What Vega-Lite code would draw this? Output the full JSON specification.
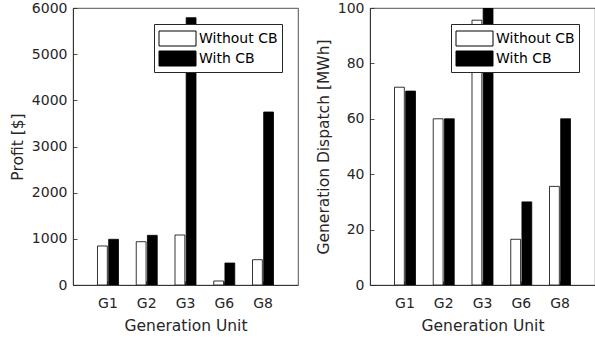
{
  "$schema": "https://vega.github.io/schema/vega-lite/v6.json",
  "padding": {"left": 9, "top": 0, "right": 0, "bottom": 0},
  "background": "white",
  "datasets": {
    "profit": [
      {"unit": "G1", "series": "Without CB", "value": 845},
      {"unit": "G1", "series": "With CB", "value": 990},
      {"unit": "G2", "series": "Without CB", "value": 938},
      {"unit": "G2", "series": "With CB", "value": 1076},
      {"unit": "G3", "series": "Without CB", "value": 1083},
      {"unit": "G3", "series": "With CB", "value": 5790},
      {"unit": "G6", "series": "Without CB", "value": 87},
      {"unit": "G6", "series": "With CB", "value": 476},
      {"unit": "G8", "series": "Without CB", "value": 548},
      {"unit": "G8", "series": "With CB", "value": 3747}
    ],
    "dispatch": [
      {"unit": "G1", "series": "Without CB", "value": 71.4},
      {"unit": "G1", "series": "With CB", "value": 70},
      {"unit": "G2", "series": "Without CB", "value": 60},
      {"unit": "G2", "series": "With CB", "value": 60},
      {"unit": "G3", "series": "Without CB", "value": 95.6},
      {"unit": "G3", "series": "With CB", "value": 100},
      {"unit": "G6", "series": "Without CB", "value": 16.5},
      {"unit": "G6", "series": "With CB", "value": 30},
      {"unit": "G8", "series": "Without CB", "value": 35.6},
      {"unit": "G8", "series": "With CB", "value": 60}
    ]
  },
  "config": {
    "font": "DejaVu Sans",
    "view": {"stroke": "#262626", "strokeWidth": 0.8},
    "axis": {
      "grid": false,
      "domainColor": "#262626",
      "domainWidth": 0.8,
      "tickColor": "#262626",
      "tickWidth": 0.8,
      "tickSize": -4,
      "labelColor": "#262626",
      "labelFontSize": 14,
      "labelFont": "DejaVu Sans",
      "titleFont": "DejaVu Sans",
      "titleFontSize": 15.5,
      "titleFontWeight": "normal",
      "titleColor": "#262626"
    },
    "legend": {
      "labelFont": "DejaVu Sans",
      "labelFontSize": 14,
      "labelColor": "black"
    }
  },
  "hconcat": [
    {
      "width": 225,
      "height": 277,
      "data": {"name": "profit"},
      "mark": {"type": "bar", "stroke": "black", "strokeWidth": 0.8, "clip": true},
      "encoding": {
        "x": {"field": "unit", "type": "nominal", "sort": null,
              "scale": {"paddingInner": 0.458, "paddingOuter": 0.632},
              "axis": {"orient": "bottom", "labelAngle": 0, "labelPadding": 15, "title": "Generation Unit", "titlePadding": 8}},
        "xOffset": {"field": "series", "type": "nominal", "sort": ["Without CB", "With CB"], "scale": {"paddingInner": 0.12}},
        "y": {"field": "value", "type": "quantitative",
              "scale": {"domain": [0, 6000], "nice": false},
              "axis": {"orient": "left", "format": "d", "values": [0, 1000, 2000, 3000, 4000, 5000, 6000], "labelPadding": 10, "title": "Profit [$]", "titlePadding": 6}},
        "color": {"field": "series", "type": "nominal",
                  "scale": {"domain": ["Without CB", "With CB"], "range": ["white", "black"]},
                  "legend": {"title": null, "orient": "top-right", "offset": 16,
                             "symbolType": "M-1.85,-0.75H1.85V0.75H-1.85Z", "symbolSize": 400,
                             "symbolOffset": 9,
                             "symbolStrokeColor": "black", "symbolStrokeWidth": 1, "symbolOpacity": 1,
                             "fillColor": "white", "strokeColor": "#262626", "padding": 4,
                             "rowPadding": 0, "labelOffset": 11}}
      }
    },
    {
      "width": 225,
      "height": 277,
      "data": {"name": "dispatch"},
      "mark": {"type": "bar", "stroke": "black", "strokeWidth": 0.8, "clip": true},
      "encoding": {
        "x": {"field": "unit", "type": "nominal", "sort": null,
              "scale": {"paddingInner": 0.458, "paddingOuter": 0.632},
              "axis": {"orient": "bottom", "labelAngle": 0, "labelPadding": 15, "title": "Generation Unit", "titlePadding": 8}},
        "xOffset": {"field": "series", "type": "nominal", "sort": ["Without CB", "With CB"], "scale": {"paddingInner": 0.12}},
        "y": {"field": "value", "type": "quantitative",
              "scale": {"domain": [0, 100], "nice": false},
              "axis": {"orient": "left", "values": [0, 20, 40, 60, 80, 100], "labelPadding": 10, "title": "Generation Dispatch [MWh]", "titlePadding": 6}},
        "color": {"field": "series", "type": "nominal",
                  "scale": {"domain": ["Without CB", "With CB"], "range": ["white", "black"]},
                  "legend": {"title": null, "orient": "top-right", "offset": 16,
                             "symbolType": "M-1.85,-0.75H1.85V0.75H-1.85Z", "symbolSize": 400,
                             "symbolOffset": 9,
                             "symbolStrokeColor": "black", "symbolStrokeWidth": 1, "symbolOpacity": 1,
                             "fillColor": "white", "strokeColor": "#262626", "padding": 4,
                             "rowPadding": 0, "labelOffset": 11}}
      }
    }
  ],
  "resolve": {"scale": {"color": "independent"}},
  "spacing": 16
}
